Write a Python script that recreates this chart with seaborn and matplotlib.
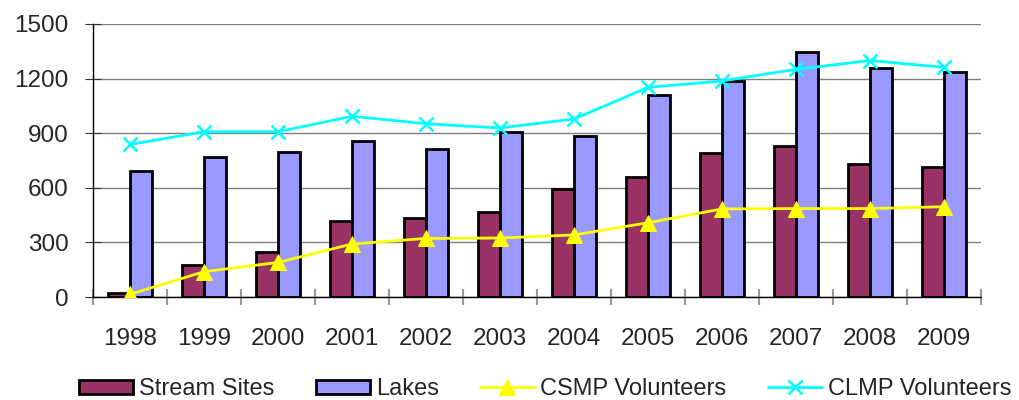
import matplotlib
matplotlib.use("Agg")
import matplotlib.pyplot as plt
import numpy as np
import pandas as pd
import seaborn as sns
from matplotlib.lines import Line2D
from matplotlib.patches import Patch

years = ["1998", "1999", "2000", "2001", "2002", "2003",
         "2004", "2005", "2006", "2007", "2008", "2009"]
stream_sites = [20, 176, 245, 418, 434, 469, 595, 658, 791, 830, 731, 713]
lakes = [692, 767, 798, 855, 813, 907, 885, 1110, 1189, 1344, 1257, 1236]
csmp_volunteers = [15, 139, 190, 291, 322, 324, 341, 408, 484, 486, 486, 496]
clmp_volunteers = [838, 908, 908, 993, 952, 929, 978, 1152, 1187, 1251, 1299, 1262]

STREAM_COLOR = "#993366"
LAKES_COLOR = "#9999FF"
CSMP_COLOR = "#FFFF00"
CLMP_COLOR = "#00FFFF"

sns.set_style("white")
plt.rcParams["font.family"] = ["Liberation Sans", "DejaVu Sans"]

bars = pd.DataFrame({
    "year": years * 2,
    "value": stream_sites + lakes,
    "series": ["Stream Sites"] * len(years) + ["Lakes"] * len(years),
})

fig = plt.figure(figsize=(10.19, 4.0), dpi=100)
ax = fig.add_axes([93 / 1019, 1 - 297 / 400, (981 - 93) / 1019, (297 - 24) / 400])

sns.barplot(data=bars, x="year", y="value", hue="series",
            palette=[STREAM_COLOR, LAKES_COLOR], width=0.6,
            edgecolor="black", linewidth=2, saturation=1,
            legend=False, ax=ax, zorder=2)

pos = np.arange(len(years))
sns.lineplot(x=pos, y=csmp_volunteers, color=CSMP_COLOR, lw=2,
             marker="^", markersize=11, markeredgecolor=CSMP_COLOR,
             ax=ax, zorder=4)
sns.lineplot(x=pos, y=clmp_volunteers, color=CLMP_COLOR, lw=2,
             marker="x", markersize=10, markeredgewidth=1.8,
             markeredgecolor=CLMP_COLOR, ax=ax, zorder=4)

ax.set_xlim(-0.5, len(years) - 0.5)
ax.set_ylim(0, 1500)
ax.set_yticks(range(0, 1501, 300))
ax.yaxis.grid(True, color="#808080", lw=1)
ax.set_axisbelow(True)
ax.set_xlabel("")
ax.set_ylabel("")

for side in ["top", "right"]:
    ax.spines[side].set_visible(False)
ax.spines["left"].set_color("black")
ax.spines["bottom"].set_color("black")
ax.spines["left"].set_linewidth(1)
ax.spines["bottom"].set_linewidth(1)

ax.set_xticks(pos)
ax.set_xticklabels(years)
ax.set_xticks(np.arange(-0.5, len(years), 1), minor=True)
ax.tick_params(axis="x", which="major", length=0, pad=22, labelsize=17.5)
ax.tick_params(axis="x", which="minor", length=11, color="#999999", width=1.5,
               direction="inout", bottom=True)
ax.tick_params(axis="y", which="major", length=11, color="#333333", left=True,
               direction="inout", labelsize=17.5, pad=12)

handles = [
    Patch(facecolor=STREAM_COLOR, edgecolor="black", linewidth=2),
    Patch(facecolor=LAKES_COLOR, edgecolor="black", linewidth=2),
    Line2D([], [], color=CSMP_COLOR, lw=2, marker="^", markersize=11),
    Line2D([], [], color=CLMP_COLOR, lw=2, marker="x", markersize=10,
           markeredgewidth=1.8),
]
fig.legend(handles, ["Stream Sites", "Lakes", "CSMP Volunteers", "CLMP Volunteers"],
           loc="center", bbox_to_anchor=(0.535, 1 - 389 / 400), ncol=4,
           frameon=False, fontsize=17, handlelength=2.3, handleheight=0.55,
           handletextpad=0.25, columnspacing=1.75, borderaxespad=0,
           borderpad=0)

fig.savefig("out.png", dpi=100)
